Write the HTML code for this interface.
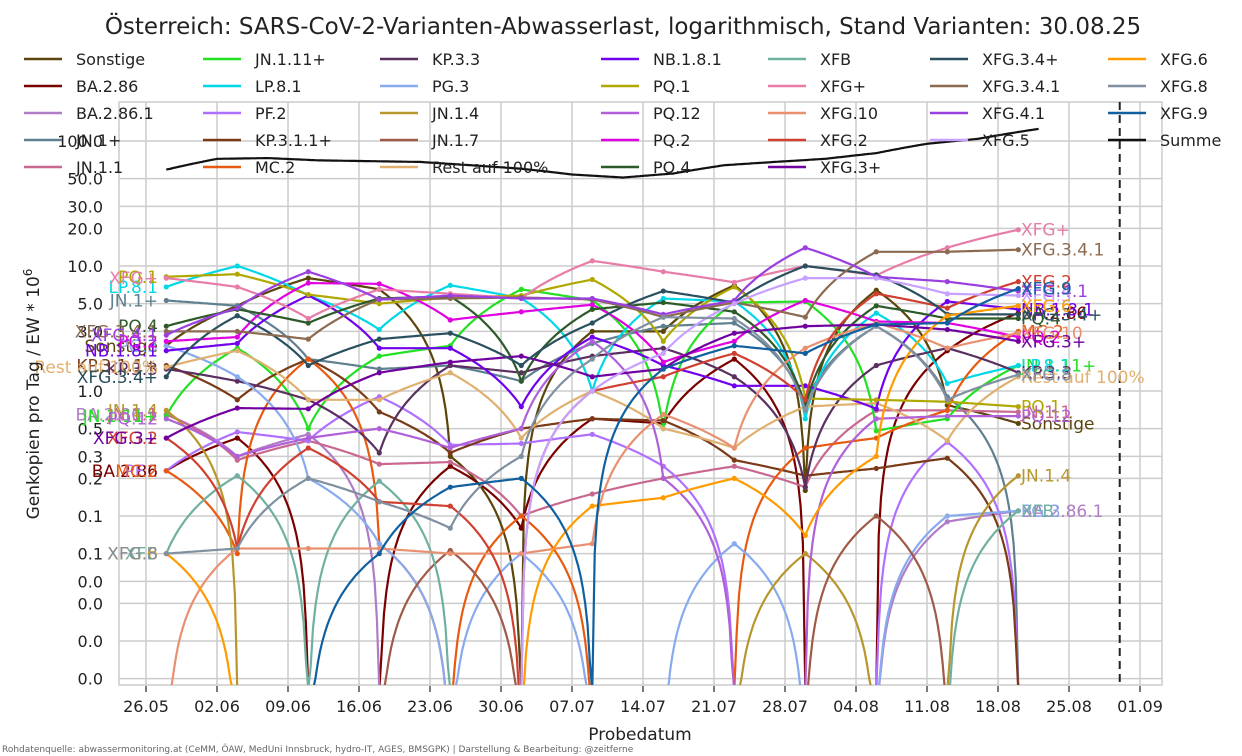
<!DOCTYPE html>
<html><head><meta charset="utf-8"><style>
html,body{margin:0;padding:0;background:#fff;overflow:hidden;}
svg{display:block;font-family:"DejaVu Sans","Liberation Sans",sans-serif;}
</style></head><body>
<svg id="chart" width="1242" height="756" viewBox="0 0 1242 756" xmlns="http://www.w3.org/2000/svg">
<rect width="1242" height="756" fill="#fff"/>
<text x="623" y="34" font-size="23" text-anchor="middle" fill="#222">Österreich: SARS-CoV-2-Varianten-Abwasserlast, logarithmisch, Stand Varianten: 30.08.25</text>
<g id="grid"></g>
<rect x="119" y="102" width="1043" height="583" fill="none" stroke="#ccc" stroke-width="1.5"/>
<g id="axes"></g>
<defs><clipPath id="clip"><rect x="119" y="102" width="1043" height="583"/></clipPath></defs>
<g id="series" clip-path="url(#clip)"></g>
<g id="labels"></g>
<g id="legend"></g>
<text transform="translate(39,394) rotate(-90)" font-size="17" text-anchor="middle" fill="#222">Genkopien pro Tag / EW * 10<tspan dy="-7" font-size="12">6</tspan></text>
<text x="640" y="740" font-size="17" text-anchor="middle" fill="#222">Probedatum</text>
<text x="2" y="752" font-size="9" fill="#666">Rohdatenquelle: abwassermonitoring.at (CeMM, ÖAW, MedUni Innsbruck, hydro-IT, AGES, BMSGPK) | Darstellung &amp; Bearbeitung: @zeitferne</text>
</svg>
<script>
// ---- data ----
const sampleDays = [2, 9, 16, 23, 30, 37, 44, 51, 58, 65, 72, 79, 86];
const xTickLabels = ["26.05","02.06","09.06","16.06","23.06","30.06","07.07","14.07","21.07","28.07","04.08","11.08","18.08","25.08","01.09"];
const yTickValues = [100,50,30,20,10,5,3,1,0.5,0.3,0.2,0.1,0.05,0.03,0.02,0.01,0.005];
const seriesNames = ["Sonstige","BA.2.86","BA.2.86.1","JN.1+","JN.1.1","JN.1.11+","LP.8.1","PF.2","KP.3.1.1+","MC.2","KP.3.3","PG.3","JN.1.4","JN.1.7","Rest auf 100%","NB.1.8.1","PQ.1","PQ.12","PQ.2","PQ.4","XFB","XFG+","XFG.10","XFG.2","XFG.3+","XFG.3.4+","XFG.3.4.1","XFG.4.1","XFG.5","XFG.6","XFG.8","XFG.9"];
const seriesColors = ["#5c450a","#7a0000","#b07cc6","#5f8090","#c86890","#22e022","#00d8e8","#b070ff","#7a3a18","#e85a10","#5a3060","#88aaee","#b8962e","#a05a48","#e0b070","#7000ee","#b0a800","#b060d8","#e000e0","#2e5a2a","#70b0a0","#e87ca8","#e89070","#d04030","#7000a0","#2a5060","#8b6a50","#9b40e0","#c8a0ff","#ff9a00","#8090a0","#1060a0"];
const vSonstige = [2.3,4.8,8,6.5,0.3,0,3.0,3.0,7,0.16,6.4,0.77,0.55];
const vBA286 = [0.23,0.42,0,0,0.25,0.08,0.6,0.55,1.8,0,0,2.1,4.2];
const vBA2861 = [0.65,0.3,0.45,0,0,0,0,0,0,0,0,0.09,0.11];
const vJN1 = [5.3,4.8,1.8,1.5,1.6,1.2,2.4,3.3,3.5,0.8,3.3,0.9,0];
const vJN11 = [0.65,0.28,0.4,0.26,0.27,0.1,0.15,0.2,0.25,0.17,0.7,0.7,0.68];
const vJN111 = [0.63,2.2,0.5,1.9,2.3,6.5,5.3,0.5,5.1,5.2,0.48,0.6,1.6];
const vLP81 = [6.8,10,5.8,3.1,7,5.5,1.0,5.5,5.2,0.6,4.2,1.15,1.6];
const vPF2 = [0.23,0.47,0.4,0.9,0.37,0.38,0.45,0.25,0,0,0,0.39,0];
const vKP311 = [1.6,0.85,1.8,0.68,0.32,0.5,0.6,0.58,0.28,0.21,0.24,0.29,0];
const vMC2 = [0.23,0.05,1.8,0.06,0,0.1,0,0,0,0.35,0.42,0.7,3.0];
const vKP33 = [1.5,1.2,0.85,0.32,1.6,1.4,1.9,2.2,1.3,0.17,1.6,2.2,1.4];
const vPG3 = [2.3,1.3,0.2,0.06,0,0.05,0,0,0.06,0,0,0.1,0.11];
const vJN14 = [0.7,0,0,0,0,0,0,0,0,0.05,0,0,0.21];
const vJN17 = [0,0,0,0,0.053,0,0,0,0,0,0.1,0,0];
const vRest = [1.55,2.1,0.85,0.85,1.4,0.42,1.0,0.5,0.35,0.75,0.8,0.4,1.3];
const vNB181 = [2.1,2.4,5.8,2.2,2.2,0.75,2.7,1.6,1.1,1.1,0.72,5.2,4.5];
const vPQ1 = [8.2,8.6,5.9,5.0,5.6,5.8,7.8,2.5,6.8,0.87,0.85,0.82,0.75];
const vPQ12 = [0.6,0.3,0.42,0.5,0.35,0.5,2.5,0.2,0,0,0.6,0.63,0.63];
const vPQ2 = [2.5,2.7,7.3,7.2,3.7,4.3,4.9,1.7,2.5,5.3,3.6,3.5,2.7];
const vPQ4 = [3.3,4.5,3.5,5.5,5.7,1.2,4.5,5.1,4.3,0.75,4.8,3.8,3.8];
const vXFB = [0.05,0.21,0,0.19,0,0,0,0,0,0,0,0,0.11];
const vXFGplus = [8.0,6.8,3.8,6.5,6.0,5.5,11,9,7.4,10,8.4,14,19.5];
const vXFG10 = [0,0.055,0.055,0.055,0.05,0.05,0.06,0.65,0.35,2.2,3.5,2.2,2.9];
const vXFG2 = [0.42,0.055,0.35,0.13,0.12,0,1.0,1.3,2.0,0.85,6,4.6,7.5];
const vXFG3 = [0.42,0.73,0.72,1.4,1.7,1.9,1.3,1.5,2.9,3.3,3.4,3.1,2.5];
const vXFG34 = [1.3,4.0,1.6,2.6,2.9,1.6,3.5,6.3,5.1,10,8.5,4.1,4.1];
const vXFG341 = [3.0,3.0,2.6,5.4,5.5,5.6,5.4,3.9,5.1,3.9,13,13,13.5];
const vXFG41 = [2.8,4.6,9,5.4,5.8,5.5,5.5,4.1,5.3,14,8.2,7.5,6.3];
const vXFG5 = [0,0,0,0,0,0,1.0,2.0,5.0,8.0,8.0,6.0,5.8];
const vXFG6 = [0.05,0,0,0,0,0,0.12,0.14,0.2,0.07,0.3,4.0,4.8];
const vXFG8 = [0.05,0.055,0.2,0.13,0.08,0.3,1.8,3.9,3.8,0.7,3.3,0.85,1.35];
const vXFG9 = [0,0,0,0.05,0.17,0.2,0,1.5,2.3,2.0,3.4,3.5,6.6];
const seriesValues = [vSonstige,vBA286,vBA2861,vJN1,vJN11,vJN111,vLP81,vPF2,vKP311,vMC2,vKP33,vPG3,vJN14,vJN17,vRest,vNB181,vPQ1,vPQ12,vPQ2,vPQ4,vXFB,vXFGplus,vXFG10,vXFG2,vXFG3,vXFG34,vXFG341,vXFG41,vXFG5,vXFG6,vXFG8,vXFG9];
const summeDays = [2,7,12,17,22,27,32,37,42,47,52,57,62,67,72,77,82,88];
const summeValues = [59,72,73,70,69,68,64,60,54,51,55,64,68,72,80,95,104,125];
const legendNames = ["Sonstige","BA.2.86","BA.2.86.1","JN.1+","JN.1.1","JN.1.11+","LP.8.1","PF.2","KP.3.1.1+","MC.2","KP.3.3","PG.3","JN.1.4","JN.1.7","Rest auf 100%","NB.1.8.1","PQ.1","PQ.12","PQ.2","PQ.4","XFB","XFG+","XFG.10","XFG.2","XFG.3+","XFG.3.4+","XFG.3.4.1","XFG.4.1","XFG.5","XFG.6","XFG.8","XFG.9","Summe"];

// ---- scales ----
const NS="http://www.w3.org/2000/svg";
function X(day){return 146+day*10.143;}
function Y(v){return 391-125*Math.log10(v);}
function mk(tag,attrs,parent){const e=document.createElementNS(NS,tag);for(const k in attrs)e.setAttribute(k,attrs[k]);parent.appendChild(e);return e;}
const grid=document.getElementById('grid'),axes=document.getElementById('axes'),ser=document.getElementById('series'),lab=document.getElementById('labels'),leg=document.getElementById('legend');

yTickValues.forEach(v=>{
  const y=Y(v);
  const l=mk('line',{x1:119,x2:1162,y1:y,y2:y,stroke:'#ccc','stroke-width':1.5},grid);
  
  
  const t=mk('text',{x:103,y:y+6,'font-size':16,'text-anchor':'end',fill:'#222'},axes);
  
  
  t.textContent=v.toFixed(1);
});
xTickLabels.forEach((s,i)=>{
  const x=X(i*7);
  const l=mk('line',{x1:x,x2:x,y1:102,y2:685,stroke:'#ccc','stroke-width':1.5},grid);
  
  
  const tk=mk('line',{x1:x,x2:x,y1:686,y2:692,stroke:'#222','stroke-width':1.2},axes);
  
  
  const t=mk('text',{x:x,y:712,'font-size':16,'text-anchor':'middle',fill:'#222'},axes);
  
  
  t.textContent=s;
});
const dl=mk('line',{x1:X(96),x2:X(96),y1:102,y2:685,stroke:'#222','stroke-width':2,'stroke-dasharray':'8,5'},axes);



function pathFor(days,vals){
  let d='';
  for(let i=0;i<days.length-1;i++){
    const n=30;
    for(let k=(i===0?0:1);k<=n;k++){
      const t=k/n;const v=vals[i]+(vals[i+1]-vals[i])*t;
      const x=X(days[i]+(days[i+1]-days[i])*t);
      let y=v>0?Y(v):690; if(y>690)y=690;
      d+=(d?'L':'M')+x.toFixed(1)+','+y.toFixed(1);
    }
  }
  return d;
}
seriesValues.forEach((vals,si)=>{
  const c=seriesColors[si];
  const p=mk('path',{d:pathFor(sampleDays,vals),fill:'none',stroke:c,'stroke-width':2.2},ser);
  
  
  vals.forEach((v,i)=>{ if(v>0){
    const m=mk('circle',{cx:X(sampleDays[i]),cy:Y(v),r:2.6,fill:c},ser);
    
    
  }});
  if(vals[0]>0){
    const t=mk('text',{x:158,y:Y(vals[0])+6,'font-size':17,'text-anchor':'end',fill:c},lab);
    
    
    t.textContent=seriesNames[si];
  }
  const last=vals[vals.length-1];
  if(last>0){
    const t=mk('text',{x:1021,y:Y(last)+6,'font-size':17,'text-anchor':'start',fill:c},lab);
    
    
    t.textContent=seriesNames[si];
  }
});
const sp=mk('path',{d:pathFor(summeDays,summeValues),fill:'none',stroke:'#111','stroke-width':2.2},ser);



const colX=[24,203,380,601,768,930,1108];
legendNames.forEach((n,i)=>{
  const col=i<5?0:i<10?1:i<15?2:i<20?3:i<25?4:i<29?5:6;
  const row=i<25?i%5:(i<29?i-25:i-29);
  const y=59+row*27;
  const c=n==="Summe"?'#111':seriesColors[i];
  const g=mk('g',{},leg);
  
  
  mk('line',{x1:colX[col],x2:colX[col]+38,y1:y,y2:y,stroke:c,'stroke-width':2.5},g);
  const t=mk('text',{x:colX[col]+52,y:y+6,'font-size':16,fill:'#222'},g);
  t.textContent=n;
});
</script>
</body></html>
